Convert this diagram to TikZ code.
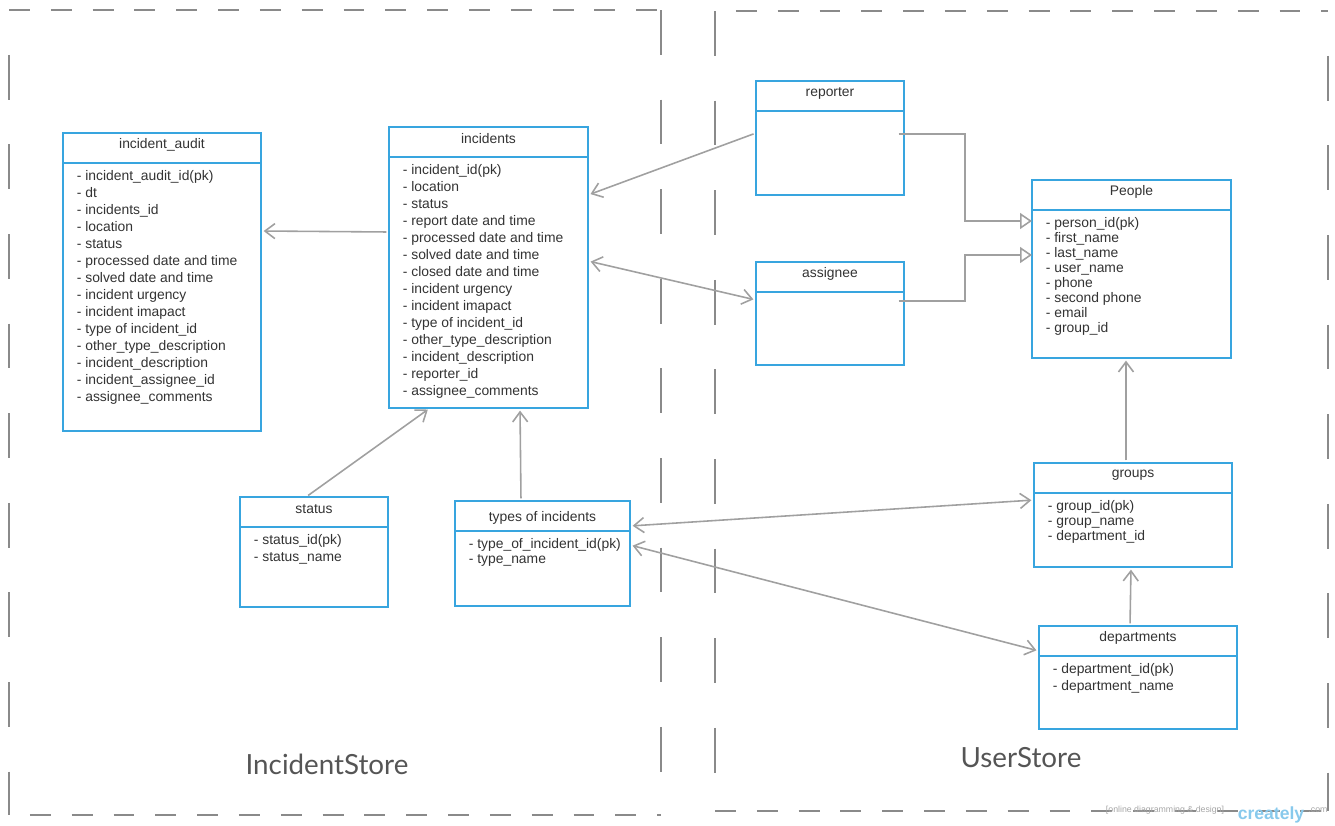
\documentclass[tikz,border=0pt]{standalone}
\usepackage{fontspec}
\setmainfont{Liberation Sans}
\newfontfamily\storefont{Lato}
\usepackage{tikz}
\usetikzlibrary{arrows.meta}

\definecolor{tableblue}{HTML}{38A5DF}
\definecolor{linkgray}{HTML}{A0A0A0}
\definecolor{framegray}{HTML}{8A8A8A}
\definecolor{textgray}{HTML}{333333}
\definecolor{storegray}{HTML}{555555}

\tikzset{
    entitybox/.style={draw=tableblue, line width=1.1pt, inner sep=0pt, outer sep=0pt},
    entityline/.style={draw=tableblue, line width=1.1pt},
    entitytitle/.style={text=textgray, inner sep=0pt, font=\fontsize{7.9}{9.6}\selectfont},
    entityattr/.style={text=textgray, inner sep=0pt, align=left},
    title types/.style={yshift=-0.1cm},
    barb/.tip={Straight Barb[length=0.2cm,width=0.3cm]},
    link/.style={draw=linkgray, line width=0.9pt, shorten <=1.5pt, shorten >=1.5pt, -barb},
    twolink/.style={link, barb-barb},
    inherit/.style={draw=linkgray, line width=0.9pt, shorten <=-3pt,
        -{Triangle[open,length=0.24cm,width=0.32cm,fill=white]}},
    hframe/.style={draw=framegray, line width=1.2pt, dash pattern=on 11.9pt off 11.9pt},
    vframe/.style={draw=framegray, line width=1.2pt, dash pattern=on 25.5pt off 25.5pt},
    storelabel/.style={text=storegray, font=\storefont\fontsize{15.8}{18}\selectfont}
}

% [line spacing]{name}{x}{y}{width}{height}{title}{attributes}, sizes in px
\newcommand{\entity}[8][9.64]{%
    \node[entitybox, anchor=north west, minimum width=#5*0.02cm, minimum height=#6*0.02cm]
        (#2) at (#3,#4) {};
    \draw[entityline]
        ([yshift=-0.6cm]#2.north west) -- ([yshift=-0.6cm]#2.north east);
    \node[entitytitle, title #2/.try]
        (#2-title) at ([yshift=-0.24cm]#2.north) {#7};
    \node[entityattr, anchor=north west, font=\fontsize{7.9}{#1}\selectfont]
        (#2-attr) at ([xshift=0.27cm,yshift=-0.75cm]#2.north west) {#8};
}

\begin{document}
\begin{tikzpicture}[x=0.02cm, y=-0.02cm]
    \useasboundingbox (0,0) rectangle (1335,825);

    % frames of the two stores
    \draw[hframe] (9,10) -- (661,10);
    \draw[hframe, dash phase=11.9pt] (9,815) -- (661,815);
    \draw[vframe, dash phase=25.5pt] (9,10) -- (9,815);
    \draw[vframe] (661,10) -- (661,815);
    \draw[hframe, dash phase=11.9pt] (715,11) -- (1328,11);
    \draw[hframe] (715,811) -- (1328,811);
    \draw[vframe] (715,11) -- (715,811);
    \draw[vframe, dash phase=25.5pt] (1328,11) -- (1328,811);

    \node[storelabel] (incidentstore) at (327,764) {IncidentStore};
    \node[storelabel] (userstore) at (1021,758) {UserStore};

    % tables
    \entity{audit}{63}{133}{198}{298}{incident\_audit}{%
        - incident\_audit\_id(pk)\\ - dt\\ - incidents\_id\\ - location\\ - status\\
        - processed date and time\\ - solved date and time\\ - incident urgency\\
        - incident imapact\\ - type of incident\_id\\ - other\_type\_description\\
        - incident\_description\\ - incident\_assignee\_id\\ - assignee\_comments}
    \entity{incidents}{389}{127}{199}{281}{incidents}{%
        - incident\_id(pk)\\ - location\\ - status\\ - report date and time\\
        - processed date and time\\ - solved date and time\\ - closed date and time\\
        - incident urgency\\ - incident imapact\\ - type of incident\_id\\
        - other\_type\_description\\ - incident\_description\\ - reporter\_id\\
        - assignee\_comments}
    \entity{status}{240}{497}{148}{110}{status}{%
        - status\_id(pk)\\ - status\_name}
    \entity[8.5]{types}{455}{501}{175}{105}{types of incidents}{%
        - type\_of\_incident\_id(pk)\\ - type\_name}
    \entity{reporter}{756}{81}{148}{114}{reporter}{}
    \entity{assignee}{756}{262}{148}{103}{assignee}{}
    \entity[8.5]{people}{1032}{180}{199}{178}{People}{%
        - person\_id(pk)\\ - first\_name\\ - last\_name\\ - user\_name\\ - phone\\
        - second phone\\ - email\\ - group\_id}
    \entity[8.5]{groups}{1034}{463}{198}{104}{groups}{%
        - group\_id(pk)\\ - group\_name\\ - department\_id}
    \entity{departments}{1039}{626}{198}{103}{departments}{%
        - department\_id(pk)\\ - department\_name}

    % links
    \draw[link]
        (incidents.west |- 0,232) -- (audit.east |- 0,231);
    \draw[link]
        (reporter.west |- 0,133) -- (incidents.east |- 0,195);
    \draw[twolink]
        (incidents.east |- 0,261) -- (assignee.west |- 0,300);
    \draw[inherit]
        (reporter.east |- 0,134) -| (965,178) |- (people.west |- 0,221);
    \draw[inherit]
        (assignee.east |- 0,301) -| (965,278) |- (people.west |- 0,255);
    \draw[link]
        (status.north -| 306,0) -- (incidents.south -| 430,0);
    \draw[link]
        (types.north -| 521,0) -- (incidents.south -| 520,0);
    \draw[link]
        (groups.north -| 1126,0) -- (people.south -| 1126,0);
    \draw[twolink]
        (types.east |- 0,526) -- (groups.west |- 0,500);
    \draw[twolink]
        (types.east |- 0,545) -- (departments.west |- 0,651);
    \draw[link]
        (departments.north -| 1130,0) -- (groups.south -| 1131,0);

    % watermark
    \node[text=black!35, font=\fontsize{5}{6}\selectfont] (watermark) at (1165,810) {[online diagramming \& design]};
    \node[text=tableblue!60, font=\bfseries\fontsize{10}{12}\selectfont] (creately) at (1271,815) {creately};
    \node[text=black!35, font=\fontsize{5}{6}\selectfont] (dotcom) at (1318,810) {.com};
\end{tikzpicture}
\end{document}
